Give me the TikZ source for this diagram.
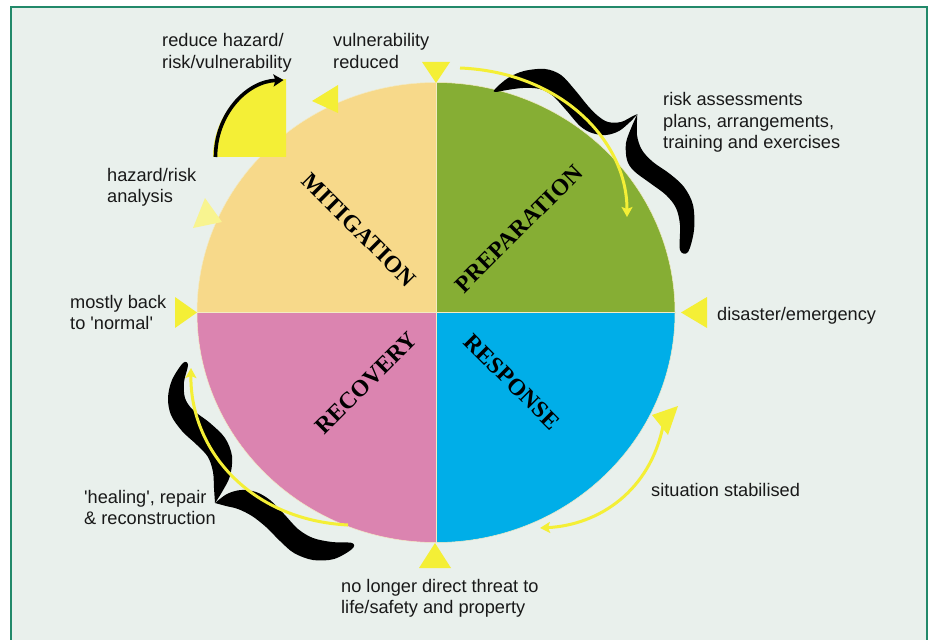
\documentclass[tikz,border=0pt]{standalone}
\usepackage{fontspec}
\setmainfont{Liberation Sans}
\newfontfamily\titlefont{Liberation Serif}
\usetikzlibrary{arrows.meta}
\definecolor{bgc}{HTML}{E9F0EC}
\definecolor{framec}{HTML}{22896A}
\definecolor{mitc}{HTML}{F7D98A}
\definecolor{prepc}{HTML}{86AE34}
\definecolor{recc}{HTML}{DB84B0}
\definecolor{respc}{HTML}{00AEE8}
\definecolor{yel}{HTML}{F4EF36}
\definecolor{lyel}{HTML}{F8F490}
\definecolor{creamc}{HTML}{F3EBC4}
\begin{document}
\begin{tikzpicture}[x=1pt,y=-1pt,
  lbl/.style={anchor=base west, inner sep=0pt, align=left, text=black!90,
    font=\fontsize{18.2}{21.5}\selectfont},
  ttl/.style={inner sep=0pt, font=\titlefont\bfseries\fontsize{23.5}{23.5}\selectfont},
  yarrow/.style={draw=yel, line width=3pt, -{Stealth[length=10pt,width=11pt,inset=2pt]}},
  barrow/.style={draw=black, line width=3.6pt, -{Stealth[length=10pt,width=12pt,inset=2pt]}},
  tri/.style={fill=yel},
  swoosh/.style={fill=black},
  er/.style={x radius=239, y radius=230}]
\useasboundingbox (0,0) rectangle (933,639);
\clip (0,0) rectangle (933,639);
\fill[white] (0,0) rectangle (933,639);
\fill[bgc] (11,7) rectangle (927,660);
\draw[framec, line width=1.8pt] (11,660) -- (11,7) -- (927,7) -- (927,660);

% quadrants
\coordinate (c) at (436,312.5);
\fill[mitc] (c) -- ++(-239,0) arc[start angle=180, end angle=270, er] -- cycle;
\fill[prepc] (c) -- ++(0,-230) arc[start angle=270, end angle=360, er] -- cycle;
\fill[respc] (c) -- ++(239,0) arc[start angle=0, end angle=90, er] -- cycle;
\fill[recc] (c) -- ++(0,230) arc[start angle=90, end angle=180, er] -- cycle;
\draw[creamc, line width=0.8pt] (c) ++(0,-230) -- ++(0,460);
\draw[creamc, line width=0.8pt] (c) ++(-239,0) -- ++(478,0);
\draw[creamc, line width=0.5pt] (c) ellipse[er];

% titles
\node[ttl, rotate=-45] (mit) at (359,230) {MITIGATION};
\node[ttl, rotate=45] (prep) at (519,229) {PREPARATION};
\node[ttl, rotate=45] (rec) at (366,383) {RECOVERY};
\node[ttl, rotate=-45] (resp) at (512,382) {RESPONSE};

% quarter disc with black arrow
\fill[yel] (286,157) -- (213,157) arc[start angle=180, end angle=270, x radius=73, y radius=78] -- cycle;
\coordinate (qa) at (215.5,157);
\draw[barrow] (qa) arc[start angle=180, end angle=268, x radius=70.5, y radius=77];

% triangles
\fill[tri] (422,62) -- (450,62) -- (436,83) -- cycle;
\fill[tri] (312,101) -- (338,85) -- (338,113) -- cycle;
\fill[lyel] (205,198) -- (222,222) -- (193,228) -- cycle;
\fill[tri] (175,297) -- (175,328) -- (197,312.5) -- cycle;
\fill[tri] (707,297) -- (707,328) -- (681,312.5) -- cycle;
\fill[tri] (419,568) -- (451,568) -- (435,543) -- cycle;
\fill[tri] (652,415) -- (678,406) -- (668,435) -- cycle;

% swoosh top right
\fill[swoosh] plot[smooth, tension=0.55] coordinates {(637.3,114.3) (630,122) (619,131) (606,135) (592,133) (580,126) (566,110) (553,96) (540,89) (523,88) (507,90) (495,92) (495,89) (508,78) (524,71) (545,69) (561,75) (575,90) (588,106) (598,116) (608,122) (621,122) (633,116) (637.3,114.3)} -- cycle;
\fill[swoosh] plot[smooth, tension=0.55] coordinates {(637.3,114.3) (631.7,126.7) (626,143) (627,160) (634,171) (650,183) (666,195) (676,208) (680,225) (680,250) (688,252) (694,230) (693,205) (684,187) (670,174) (653,162) (642,150) (637,135) (637.3,114.3)} -- cycle;

% swoosh bottom left
\fill[swoosh] plot[smooth, tension=0.55] coordinates {(215,503) (214,488) (213,472) (208,457) (197,445) (182,431) (171,415) (168,398) (172,380) (183,363) (188,365) (184,382) (185,398) (193,410) (210,423) (225,438) (232,456) (230,476) (222,492) (215,503)} -- cycle;
\fill[swoosh] plot[smooth, tension=0.55] coordinates {(215,503) (227,494) (241,490) (256,492) (270,500) (284,514) (298,529) (313,538) (332,542) (352,543) (352,549) (334,559) (313,560) (294,553) (280,541) (266,527) (252,516) (238,509) (226,506) (215,503)} -- cycle;

% yellow arrows
\coordinate (ya1) at (460,68);
\coordinate (ya2) at (627,217);
\draw[yarrow] (ya1) .. controls (560,72) and (627,140) .. (ya2);
\coordinate (yb1) at (348,525);
\coordinate (yb2) at (191,368);
\draw[yarrow] (yb1) .. controls (250,520) and (190,450) .. (yb2);
\coordinate (yc1) at (663,426);
\coordinate (yc2) at (540,528);
\draw[yarrow] (yc1) .. controls (650,490) and (600,525) .. (yc2);

% labels (anchor at baseline of last line)
\node[lbl] (t1) at (162,68.5) {reduce hazard/\\risk/vulnerability};
\node[lbl] (t2) at (333,68.5) {vulnerability\\reduced};
\node[lbl] (t3) at (663,149) {risk assessments\\plans, arrangements,\\training and exercises};
\node[lbl] (t4) at (107,202.5) {hazard/risk\\analysis};
\node[lbl] (t5) at (70,329.5) {mostly back\\to \textquotesingle normal\textquotesingle};
\node[lbl] (t6) at (717,320) {disaster/emergency};
\node[lbl] (t7) at (84,524.5) {\textquotesingle healing\textquotesingle, repair\\\& reconstruction};
\node[lbl] (t8) at (651,496) {situation stabilised};
\node[lbl] (t9) at (341,613.5) {no longer direct threat to\\life/safety and property};
\end{tikzpicture}
\end{document}
